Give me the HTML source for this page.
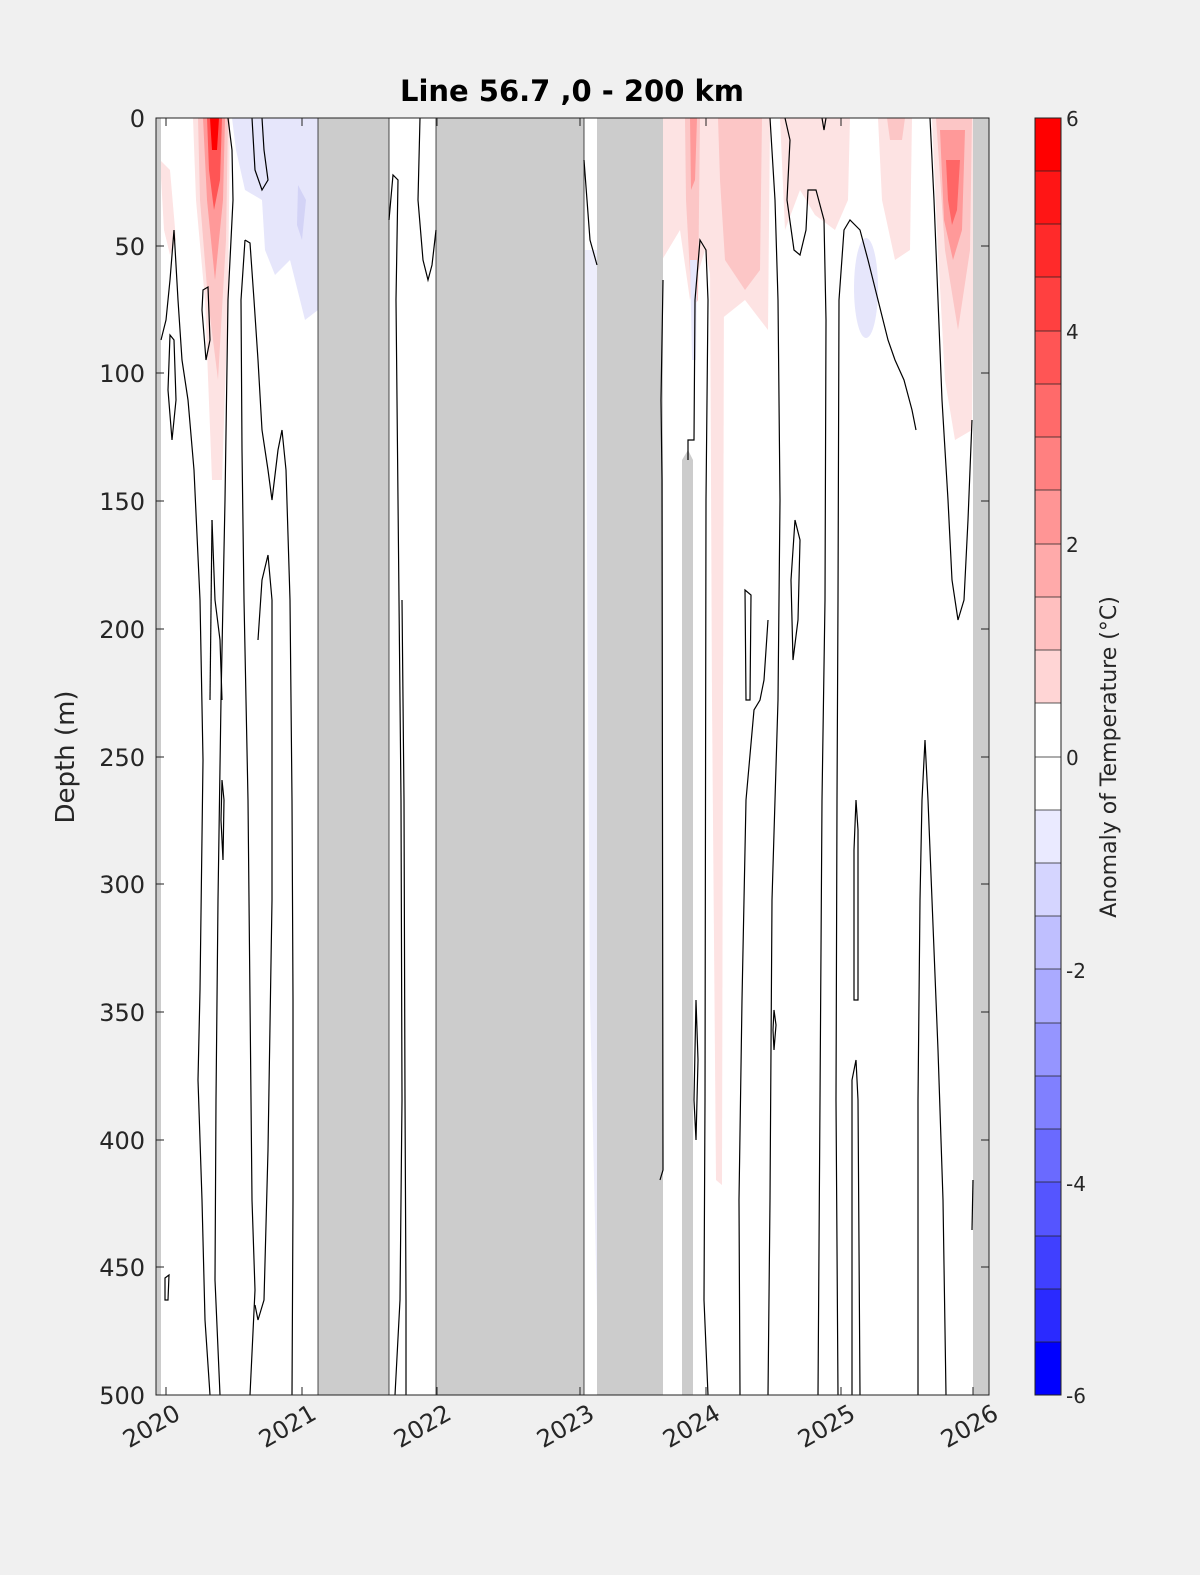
<!DOCTYPE html>
<html><head><meta charset="utf-8"><style>
html,body{margin:0;padding:0;background:#f0f0f0;overflow:hidden;width:1200px;height:1575px;}
svg{display:block;font-family:"DejaVu Sans","Liberation Sans",sans-serif;}
</style></head><body>
<svg width="1200" height="1575" viewBox="0 0 1200 1575">
<rect width="1200" height="1575" fill="#f0f0f0"/>
<defs><clipPath id="c"><rect x="156" y="118" width="833" height="1277"/></clipPath></defs>
<g clip-path="url(#c)">
<rect x="156" y="118" width="833" height="1277" fill="#fff"/>
<path d="M160 160 L170 170 L176 240 L170 255 L164 230 Z" fill="#fde3e3"/>
<path d="M193 118 L230 118 L228 300 L222 480 L212 480 L205 300 L196 200 Z" fill="#fde3e3"/>
<path d="M198 118 L228 118 L226 240 L218 380 L208 300 L200 200 Z" fill="#fcc6c6"/>
<path d="M203 118 L225 118 L223 200 L215 280 L207 200 Z" fill="#f99"/>
<path d="M207 118 L222 118 L220 180 L214 210 L209 170 Z" fill="#f55"/>
<path d="M210 118 L219 118 L217 150 L212 150 Z" fill="#f00"/>
<path d="M232 118 L318 118 L318 310 L305 320 L290 260 L275 275 L265 250 L262 200 L245 190 L236 150 Z" fill="#e6e6fb"/>
<path d="M298 185 L306 200 L302 240 L297 225 Z" fill="#d3d3f6"/>
<path d="M660 118 L770 118 L768 330 L745 300 L720 320 L705 250 L690 300 L680 230 L662 260 Z" fill="#fde3e3"/>
<path d="M685 118 L700 118 L698 300 L692 310 L686 200 Z" fill="#fcc6c6"/>
<path d="M690 118 L697 118 L695 180 L691 190 Z" fill="#f99"/>
<path d="M718 118 L762 118 L760 270 L745 290 L725 260 L720 180 Z" fill="#fcc6c6"/>
<path d="M710 260 L724 260 L722 1185 L716 1180 L712 700 Z" fill="#fde3e3"/>
<path d="M780 118 L850 118 L848 200 L835 230 L815 215 L800 190 L785 230 Z" fill="#fde3e3"/>
<path d="M878 118 L912 118 L910 250 L895 260 L882 200 Z" fill="#fde3e3"/>
<path d="M887 118 L905 118 L902 140 L890 140 Z" fill="#fcc6c6"/>
<path d="M932 118 L975 118 L972 430 L955 440 L945 380 L938 250 Z" fill="#fde3e3"/>
<path d="M936 118 L972 118 L970 250 L958 330 L945 250 Z" fill="#fcc6c6"/>
<path d="M940 130 L965 130 L962 230 L953 260 L944 220 Z" fill="#f99"/>
<path d="M946 160 L960 160 L957 210 L952 225 L948 200 Z" fill="#f66"/>
<ellipse cx="866" cy="288" rx="12" ry="50" fill="#e6e6fb"/>
<path d="M690 260 L697 260 L696 360 L692 360 Z" fill="#e6e6fb"/>
<path d="M585 250 L597 250 L597 1310 L590 1000 Z" fill="#eeeefc"/>
<g fill="#cccccc" stroke="#222" stroke-width="0.8">
<rect x="156" y="118" width="5" height="1277" stroke="none"/>
<rect x="318" y="118" width="71" height="1277"/>
<rect x="436" y="118" width="148" height="1277"/>
<rect x="597" y="118" width="66" height="1277" stroke="none"/>
<path d="M682 460 L688 450 L693 460 L693 1395 L682 1395 Z" stroke="none"/>
<rect x="973" y="118" width="16" height="1277" stroke="none"/>
</g>
<g fill="none" stroke="#000" stroke-width="1.2">
<path d="M161 340 L166 320 L170 280 L174 230 L178 300 L182 360 L188 400 L194 470 L200 600 L203 760 L200 990 L198 1080 L202 1200 L205 1320 L210 1395"/>
<path d="M170 335 L174 340 L176 400 L172 440 L168 390 Z"/>
<path d="M165 1278 L169 1275 L168 1300 L165 1300 Z"/>
<path d="M203 290 L208 287 L210 340 L206 360 L202 310 Z"/>
<path d="M228 118 L232 150 L233 200 L228 300 L225 500 L221 700 L218 900 L216 1100 L215 1280 L220 1395"/>
<path d="M212 520 L215 600 L220 640 L222 700"/>
<path d="M210 700 L212 520"/>
<path d="M222 780 L224 800 L223 860 L221 820 Z"/>
<path d="M245 240 L250 243 L254 300 L258 360 L262 430 L268 470 L272 500 L278 450 L282 430 L286 470 L290 600 L292 800 L293 1000 L293 1200 L292 1395"/>
<path d="M245 240 L241 300 L242 450 L244 600 L248 800 L250 1000 L252 1200 L255 1290 L250 1395"/>
<path d="M262 118 L264 150 L268 180 L262 190 L255 170 L252 118"/>
<path d="M258 640 L262 580 L268 555 L272 600 L272 900 L268 1150 L264 1300 L258 1320 L255 1305"/>
<path d="M395 1395 L400 1300 L402 1100 L401 800 L398 500 L396 300 L398 180 L393 175 L389 220"/>
<path d="M420 118 L418 200 L423 260 L428 280 L432 265 L436 230"/>
<path d="M406 1395 L406 1300 L405 1100 L404 800 L402 600"/>
<path d="M584 160 L590 240 L597 265"/>
<path d="M663 280 L661 400 L662 480 L663 1170 L660 1180"/>
<path d="M688 460 L688 440 L694 440 L695 300 L700 240 L706 250 L708 300 L706 500 L705 1100 L704 1300 L708 1395"/>
<path d="M696 1000 L698 1060 L696 1140 L694 1100 Z"/>
<path d="M770 118 L775 200 L778 300 L780 500 L778 700 L772 900 L770 1200 L768 1395"/>
<path d="M785 118 L790 140 L787 200 L794 250 L800 255 L806 230 L808 190 L816 190 L824 220 L826 320 L825 600 L822 800 L820 1100 L818 1395"/>
<path d="M795 520 L800 540 L798 620 L793 660 L791 580 Z"/>
<path d="M745 590 L751 595 L750 700 L746 700 Z"/>
<path d="M774 1010 L776 1025 L774 1050 L773 1030 Z"/>
<path d="M740 1395 L739 1200 L742 1000 L746 800 L754 710 L760 700 L764 680 L768 620"/>
<path d="M822 118 L824 130 L826 118"/>
<path d="M838 1395 L836 1100 L837 800 L838 600 L839 300 L844 230 L850 220 L860 230 L868 260 L878 300 L888 340 L895 360 L904 380 L912 410 L916 430"/>
<path d="M852 1395 L852 1200 L852 1080 L856 1060 L858 1100 L860 1395"/>
<path d="M856 800 L858 830 L858 1000 L854 1000 L854 850 Z"/>
<path d="M918 1395 L918 1100 L920 900 L922 800 L925 740 L928 800 L932 900 L938 1050 L943 1200 L946 1395"/>
<path d="M930 118 L934 200 L938 300 L942 400 L948 500 L952 580 L958 620 L964 600 L968 520 L972 420"/>
<path d="M973 1180 L972 1230"/>
</g>
</g>
<rect x="156" y="118" width="833" height="1277" fill="none" stroke="#222" stroke-width="1"/>
<g stroke="#222" stroke-width="1">
<path d="M156 118h8M156 246h8M156 373h8M156 501h8M156 629h8M156 757h8M156 884h8M156 1012h8M156 1140h8M156 1267h8M156 1395h8"/>
<path d="M989 246h-8M989 373h-8M989 501h-8M989 629h-8M989 757h-8M989 884h-8M989 1012h-8M989 1140h-8M989 1267h-8"/>
<path d="M166 1395v-8M302 1395v-8M437 1395v-8M580 1395v-8M706 1395v-8M841 1395v-8M973 1395v-8M166 118v8M302 118v8M437 118v8M580 118v8M706 118v8M841 118v8"/>
</g>
<g font-size="24" fill="#262626" text-anchor="end">
<text x="145" y="127">0</text><text x="145" y="255">50</text><text x="145" y="382">100</text><text x="145" y="510">150</text><text x="145" y="638">200</text><text x="145" y="766">250</text><text x="145" y="893">300</text><text x="145" y="1021">350</text><text x="145" y="1149">400</text><text x="145" y="1276">450</text><text x="145" y="1404">500</text>
</g>
<g font-size="24" fill="#262626" text-anchor="end">
<text transform="translate(182,1418) rotate(-30)">2020</text>
<text transform="translate(318,1418) rotate(-30)">2021</text>
<text transform="translate(453,1418) rotate(-30)">2022</text>
<text transform="translate(596,1418) rotate(-30)">2023</text>
<text transform="translate(722,1418) rotate(-30)">2024</text>
<text transform="translate(857,1418) rotate(-30)">2025</text>
<text transform="translate(1000,1418) rotate(-30)">2026</text>
</g>
<text transform="translate(74,757) rotate(-90)" font-size="26" fill="#262626" text-anchor="middle">Depth (m)</text>
<text x="572" y="101" font-size="29" font-weight="bold" fill="#000" text-anchor="middle">Line 56.7 ,0 - 200 km</text>
<g>
<rect x="1035" y="118" width="26" height="54" fill="#ff0000"/>
<rect x="1035" y="171" width="26" height="54" fill="#ff1515"/>
<rect x="1035" y="224" width="26" height="54" fill="#ff2a2a"/>
<rect x="1035" y="277" width="26" height="54" fill="#ff4040"/>
<rect x="1035" y="331" width="26" height="54" fill="#ff5555"/>
<rect x="1035" y="384" width="26" height="54" fill="#ff6a6a"/>
<rect x="1035" y="437" width="26" height="54" fill="#ff8080"/>
<rect x="1035" y="490" width="26" height="54" fill="#ff9595"/>
<rect x="1035" y="544" width="26" height="54" fill="#ffaaaa"/>
<rect x="1035" y="597" width="26" height="54" fill="#ffbfbf"/>
<rect x="1035" y="650" width="26" height="54" fill="#ffd5d5"/>
<rect x="1035" y="703" width="26" height="107" fill="#fff"/>
<rect x="1035" y="810" width="26" height="54" fill="#eaeaff"/>
<rect x="1035" y="863" width="26" height="54" fill="#d5d5ff"/>
<rect x="1035" y="916" width="26" height="54" fill="#bfbfff"/>
<rect x="1035" y="969" width="26" height="54" fill="#aaaaff"/>
<rect x="1035" y="1023" width="26" height="54" fill="#9595ff"/>
<rect x="1035" y="1076" width="26" height="54" fill="#8080ff"/>
<rect x="1035" y="1129" width="26" height="54" fill="#6a6aff"/>
<rect x="1035" y="1182" width="26" height="54" fill="#5555ff"/>
<rect x="1035" y="1236" width="26" height="54" fill="#4040ff"/>
<rect x="1035" y="1289" width="26" height="54" fill="#2a2aff"/>
<rect x="1035" y="1342" width="26" height="53" fill="#0000ff"/>
<g stroke="#222" stroke-width="0.8">
<path d="M1035 171h26M1035 224h26M1035 277h26M1035 331h26M1035 384h26M1035 437h26M1035 490h26M1035 544h26M1035 597h26M1035 650h26M1035 703h26M1035 757h26M1035 810h26M1035 863h26M1035 916h26M1035 969h26M1035 1023h26M1035 1076h26M1035 1129h26M1035 1182h26M1035 1236h26M1035 1289h26M1035 1342h26"/>
</g>
<rect x="1035" y="118" width="26" height="1277" fill="none" stroke="#222" stroke-width="1"/>
</g>
<g font-size="20" fill="#262626">
<text x="1066" y="126">6</text><text x="1066" y="339">4</text><text x="1066" y="552">2</text><text x="1066" y="765">0</text><text x="1066" y="978">-2</text><text x="1066" y="1191">-4</text><text x="1066" y="1403">-6</text>
</g>
<text transform="translate(1116,757) rotate(-90)" font-size="22" fill="#262626" text-anchor="middle">Anomaly of Temperature (°C)</text>
</svg>
</body></html>
